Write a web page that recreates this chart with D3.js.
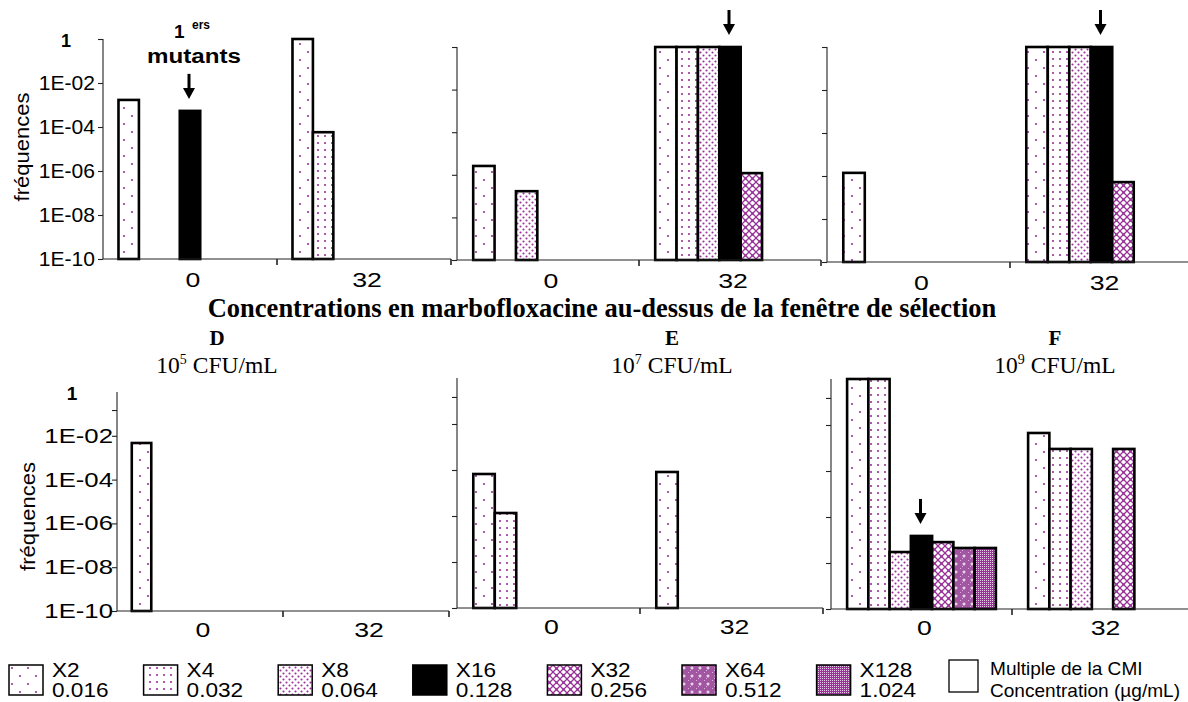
<!DOCTYPE html>
<html><head><meta charset="utf-8">
<script src="https://cdn.jsdelivr.net/npm/d3@7"></script>
<style>body{margin:0;background:#fff} svg{display:block}</style>
</head><body>
<svg id="c" width="1188" height="702"></svg>
<script>
// ---------- data ----------
const categories = ["0", "32"];
const series = ["X2", "X4", "X8", "X16", "X32", "X64", "X128"];
const concentrations = ["0.016", "0.032", "0.064", "0.128", "0.256", "0.512", "1.024"];
const yTickValuesTop = [1, 1e-2, 1e-4, 1e-6, 1e-8, 1e-10];
const yTickValuesBottom = [0.15, 1e-2, 1e-4, 1e-6, 1e-8, 1e-10];
const yTickLabelValues = [1e-2, 1e-4, 1e-6, 1e-8, 1e-10];
const yTickLabels = ["1E-02", "1E-04", "1E-06", "1E-08", "1E-10"];
const yTopLabel = "1";

// frequencies, series order X2..X128 (null = no bar)
const A_0  = [1.7e-3, null, null, 5.4e-4, null, null, null];
const A_32 = [1, 5.8e-5, null, null, null, null, null];
const B_0  = [2.6e-6, null, 1.7e-7, null, null, null, null];
const B_32 = [1, 1, 1, 1, 1.2e-6, null, null];
const C_0  = [1.4e-6, null, null, null, null, null, null];
const C_32 = [1, 1, 1, 1, 5.2e-7, null, null];
const D_0  = [4.7e-3, null, null, null, null, null, null];
const D_32 = [null, null, null, null, null, null, null];
const E_0  = [6.7e-5, 1.35e-6, null, null, null, null, null];
const E_32 = [8.2e-5, null, null, null, null, null, null];
const F_0  = [1, 1, 3.0e-8, 1.5e-7, 8.1e-8, 4.5e-8, 4.5e-8];
const F_32 = [4.5e-3, 9.1e-4, 9.1e-4, null, 9.1e-4, null, null];

const panelLetters = ["D", "E", "F"];
const inoculumExp = ["5", "7", "9"];
const firstMutants = [["A", "0", "X16"], ["B", "32", "X16"], ["C", "32", "X16"], ["F", "0", "X16"]];
const title = "Concentrations en marbofloxacine au-dessus de la fenêtre de sélection";
const yAxisTitle = "fréquences";
const legendNote = ["Multiple de la CMI", "Concentration (µg/mL)"];

const panelData = {
  A: [A_0, A_32], B: [B_0, B_32], C: [C_0, C_32],
  D: [D_0, D_32], E: [E_0, E_32], F: [F_0, F_32]
};

// ---------- layout ----------
const layout = {
  A: {x0: 103, x1: 451, yTop: 39, yBot: 259, row: 0, labels: true},
  B: {x0: 457, x1: 821, yTop: 47, yBot: 260, row: 0},
  C: {x0: 827, x1: 1193, yTop: 47, yBot: 262, row: 0},
  D: {x0: 117, x1: 449, yTop: 392, yBot: 611, row: 1, labels: true},
  E: {x0: 457, x1: 823, yTop: 378, yBot: 608, row: 1},
  F: {x0: 831, x1: 1193, yTop: 379, yBot: 609, row: 1}
};

const PURPLE = "#993399";
const SANS = "'Liberation Sans', Arial, sans-serif";
const SERIF = "'Liberation Serif', 'Times New Roman', serif";

const svg = d3.select("#c");
const defs = svg.append("defs");

function pat(id, w, h, draw) {
  const p = defs.append("pattern").attr("id", id).attr("patternUnits", "userSpaceOnUse")
    .attr("width", w).attr("height", h);
  draw(p);
}
pat("pX2", 16, 16, p => {
  p.append("rect").attr("width", 16).attr("height", 16).attr("fill", "#fff");
  p.append("circle").attr("cx", 4).attr("cy", 4).attr("r", 1.1).attr("fill", PURPLE);
  p.append("circle").attr("cx", 12).attr("cy", 12).attr("r", 1.1).attr("fill", PURPLE);
});
pat("pX4", 7, 7, p => {
  p.append("rect").attr("width", 7).attr("height", 7).attr("fill", "#fff");
  p.append("circle").attr("cx", 3).attr("cy", 3).attr("r", 1.1).attr("fill", PURPLE);
});
pat("pX8", 6, 6, p => {
  p.append("rect").attr("width", 6).attr("height", 6).attr("fill", "#fff");
  p.append("circle").attr("cx", 1.5).attr("cy", 1.5).attr("r", 1.05).attr("fill", PURPLE);
  p.append("circle").attr("cx", 4.5).attr("cy", 4.5).attr("r", 1.05).attr("fill", PURPLE);
});
pat("pX32", 7, 7, p => {
  p.append("rect").attr("width", 7).attr("height", 7).attr("fill", "#fff");
  p.append("path").attr("d", "M0,0L7,7M7,0L0,7")
    .attr("stroke", PURPLE).attr("stroke-width", 1.3);
  p.append("circle").attr("cx", 3.5).attr("cy", 3.5).attr("r", 1.2).attr("fill", PURPLE);
});
pat("pX64", 8, 8, p => {
  p.append("rect").attr("width", 8).attr("height", 8).attr("fill", "#a256a2");
  p.append("rect").attr("x", 0).attr("y", 0).attr("width", 1).attr("height", 1).attr("fill", "#d9b3d9");
  p.append("rect").attr("x", 2).attr("y", 6).attr("width", 1).attr("height", 1).attr("fill", "#d9b3d9");
  p.append("path").attr("d", "M4,2.5V5.5M2.5,4H5.5").attr("stroke", "#fff").attr("stroke-width", 1);
});
pat("pX128", 2, 2, p => {
  p.append("rect").attr("width", 2).attr("height", 2).attr("fill", PURPLE);
  p.append("rect").attr("width", 1).attr("height", 1).attr("fill", "#e6cce6");
});
const fillOf = s => s === "X16" ? "#000" : `url(#p${s})`;

// stretched text helper
function stext(g, x, y, str, o) {
  return g.append("text")
    .attr("transform", `translate(${x},${y})${o.rot ? ` rotate(${o.rot})` : ""} scale(${o.sx || 1},1)`)
    .attr("text-anchor", o.anchor || "start")
    .style("font-family", o.family || SANS)
    .style("font-size", o.size + "px")
    .style("font-weight", o.weight || "normal")
    .attr("fill", "#000")
    .text(str);
}

const scales = {};
Object.keys(layout).forEach(key => {
  const L = layout[key];
  const g = svg.append("g");
  const x = d3.scaleBand().domain(categories).range([L.x0, L.x1]);
  const bw = x.bandwidth();
  const xs = d3.scaleBand().domain(series).range([0.089 * bw, 0.911 * bw]);
  const y = d3.scaleLog().domain([1e-10, 1]).range([L.yBot, L.yTop]);
  scales[key] = {x, xs, y};

  // bars
  categories.forEach((c, ci) => {
    const vals = panelData[key][ci];
    const rows = series.map((s, i) => ({s, v: vals[i]})).filter(d => d.v != null);
    g.selectAll(null).data(rows).enter().append("rect")
      .attr("x", d => x(c) + xs(d.s))
      .attr("width", xs.bandwidth())
      .attr("y", d => y(d.v))
      .attr("height", d => L.yBot - y(d.v))
      .attr("fill", d => fillOf(d.s))
      .attr("stroke", "#000").attr("stroke-width", 2.6);
  });

  // y axis
  const ya = d3.axisLeft(y).tickValues(L.row === 0 ? yTickValuesTop : yTickValuesBottom)
    .tickFormat("").tickSize(5).tickSizeOuter(0);
  const yg = g.append("g").attr("transform", `translate(${L.x0},0)`).call(ya);
  yg.selectAll("path,line").attr("stroke", "#222").attr("stroke-width", 1.1);
  yg.select(".domain").attr("d", `M0,${L.yTop}V${L.yBot}`);

  // x axis (line + boundary ticks)
  g.append("line").attr("x1", L.x0).attr("x2", Math.min(L.x1, 1188)).attr("y1", L.yBot).attr("y2", L.yBot)
    .attr("stroke", "#222").attr("stroke-width", 1.1);
  const bounds = [x("32"), L.x1];
  g.selectAll(null).data(bounds.filter(b => b < 1188)).enter().append("line")
    .attr("x1", d => d).attr("x2", d => d).attr("y1", L.yBot).attr("y2", L.yBot + 6)
    .attr("stroke", "#222").attr("stroke-width", 1.6);
  categories.forEach(c => {
    stext(g, x(c) + bw / 2 + 3, L.yBot + (L.row === 0 ? 28 : 26), c, {size: 20.5, sx: 1.3, anchor: "middle"});
  });

  // y labels
  if (L.labels) {
    const top = L.row === 0;
    yTickLabelValues.forEach((v, i) => {
      stext(g, top ? 95 : 113, y(v) + 7, yTickLabels[i], {size: 19.5, sx: top ? 1.08 : 1.32, anchor: "end"});
    });
    stext(g, top ? 66 : 72, y(1) + 8, yTopLabel, {size: top ? 18 : 19, weight: "bold", anchor: "middle"});
    stext(g, top ? 29 : 35, (L.yTop + L.yBot) / 2 + (top ? -2 : 15), yAxisTitle,
      {size: 20, sx: 1.1, anchor: "middle", rot: -90});
  }
});

// arrows for first mutants
firstMutants.forEach(([p, c, s]) => {
  const S = scales[p];
  const v = panelData[p][categories.indexOf(c)][series.indexOf(s)];
  const cx = S.x(c) + S.xs(s) + S.xs.bandwidth() / 2 - 1;
  const yb = S.y(v) - 12;
  svg.append("rect").attr("x", cx - 1.5).attr("y", yb - 25).attr("width", 3).attr("height", 16).attr("fill", "#000");
  svg.append("path").attr("d", `M${cx - 6},${yb - 11}L${cx + 6},${yb - 11}L${cx},${yb}Z`).attr("fill", "#000");
});

// "1ers mutants" annotation
stext(svg, 174, 38, "1", {size: 19, weight: "bold"});
stext(svg, 192, 29, "ers", {size: 12, weight: "bold"});
stext(svg, 194, 63, "mutants", {size: 21, weight: "bold", sx: 1.15, anchor: "middle"});

// title
stext(svg, 602, 317, title, {size: 26.5, weight: "bold", family: SERIF, anchor: "middle"});

// panel labels bottom row
const labelCenters = [217, 672, 1055];
panelLetters.forEach((l, i) => {
  stext(svg, labelCenters[i], 345, l, {size: 21, weight: "bold", family: SERIF, anchor: "middle"});
  const t = svg.append("text").attr("x", labelCenters[i]).attr("y", 373).attr("text-anchor", "middle")
    .style("font-family", SERIF).style("font-size", "23.5px");
  t.append("tspan").text("10");
  t.append("tspan").attr("dy", -9).style("font-size", "14px").text(inoculumExp[i]);
  t.append("tspan").attr("dy", 9).text(" CFU/mL");
});

// legend
const lg = svg.append("g");
series.forEach((s, i) => {
  const lx = 9 + i * 134.6;
  lg.append("rect").attr("x", lx).attr("y", 665).attr("width", 34).attr("height", 30)
    .attr("fill", fillOf(s)).attr("stroke", "#000").attr("stroke-width", 1.5);
  stext(lg, lx + 43, 677, s, {size: 19.5, sx: 1.16});
  stext(lg, lx + 43, 697, concentrations[i], {size: 19.5, sx: 1.16});
});
lg.append("rect").attr("x", 949).attr("y", 660).attr("width", 29).attr("height", 32)
  .attr("fill", "#fff").attr("stroke", "#000").attr("stroke-width", 1.3);
stext(lg, 990, 675, legendNote[0], {size: 18, sx: 1.06});
stext(lg, 990, 697, legendNote[1], {size: 18, sx: 1.06});
</script>
</body></html>
